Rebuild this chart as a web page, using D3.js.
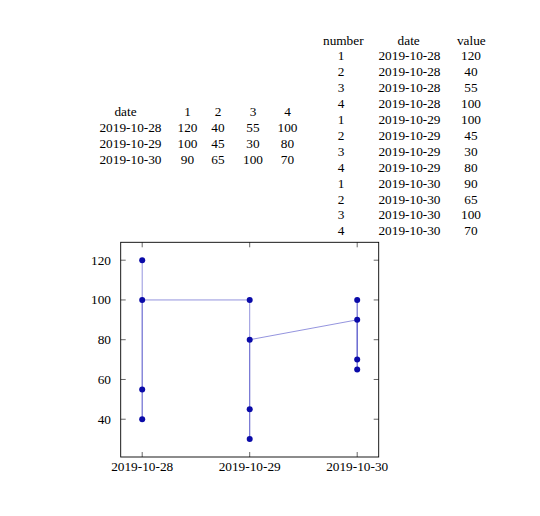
<!DOCTYPE html>
<html>
<head>
<meta charset="utf-8">
<style>
	body { margin: 0; background: #fff; }
	svg text { font-family: "Liberation Serif", "Times New Roman", serif; font-size: 13.3px; fill: #000; }
</style>
</head>
<body>
<div id="chart"></div>
<script src="https://cdn.jsdelivr.net/npm/d3@7"></script>
<script>

	// wide table: one column per number
	var dates = ['2019-10-28', '2019-10-29', '2019-10-30'];
	var numbers = [1, 2, 3, 4];
	var number1 = [120, 100, 90];
	var number2 = [40, 45, 65];
	var number3 = [55, 30, 100];
	var number4 = [100, 80, 70];
	var yTicks = [40, 60, 80, 100, 120];

	var wide = [number1, number2, number3, number4];

	// long table, in the order pgfplots reads it
	var long = [];
	dates.forEach(function(d, i){
		numbers.forEach(function(n, j){
			long.push({ number: n, date: d, value: wide[j][i] });
		});
	});

	var width = 540;
	var height = 516;

	var svg = d3.select('#chart')
		.append('svg')
		.attr('width', width)
		.attr('height', height);

	// ---- left table (wide) ----
	var wideCols = [130.5, 187.5, 218, 253, 287.5];
	var wideHead = svg.append('g');
	wideHead.append('text').attr('x', 125.5).attr('y', 115.5).attr('text-anchor', 'middle').text('date');
	numbers.forEach(function(n, j){
		wideHead.append('text')
			.attr('x', wideCols[j + 1])
			.attr('y', 115.5)
			.attr('text-anchor', 'middle')
			.text(n);
	});
	dates.forEach(function(d, i){
		var y = 131.8 + i * 15.9;
		svg.append('text').attr('x', wideCols[0]).attr('y', y).attr('text-anchor', 'middle').text(d);
		wide.forEach(function(col, j){
			svg.append('text')
				.attr('x', wideCols[j + 1])
				.attr('y', y)
				.attr('text-anchor', 'middle')
				.text(col[i]);
		});
	});

	// ---- right table (long) ----
	var longCols = [341, 409.5, 471];
	svg.append('text').attr('x', 343.3).attr('y', 44.5).attr('text-anchor', 'middle').text('number');
	svg.append('text').attr('x', 408.7).attr('y', 44.5).attr('text-anchor', 'middle').text('date');
	svg.append('text').attr('x', 471.3).attr('y', 44.5).attr('text-anchor', 'middle').text('value');

	svg.selectAll('.longRow')
		.data(long)
		.enter()
		.append('g')
		.attr('class', 'longRow')
		.attr('transform', function(d, i){ return 'translate(0,' + (60.4 + i * 15.9) + ')'; })
		.each(function(d){
			var row = d3.select(this);
			row.append('text').attr('x', longCols[0]).attr('text-anchor', 'middle').text(d.number);
			row.append('text').attr('x', longCols[1]).attr('text-anchor', 'middle').text(d.date);
			row.append('text').attr('x', longCols[2]).attr('text-anchor', 'middle').text(d.value);
		});

	// ---- plot ----
	var plotLeft = 120.7, plotRight = 378.7, plotTop = 242.3, plotBottom = 457;
	var parse = d3.utcParse('%Y-%m-%d');
	var t0 = parse(dates[0]).getTime();
	var t1 = parse(dates[dates.length - 1]).getTime();
	var pad = 0.1 * (t1 - t0);

	var x = d3.scaleUtc()
		.domain([new Date(t0 - pad), new Date(t1 + pad)])
		.range([plotLeft, plotRight]);

	var yMin = d3.min(long, function(d){ return d.value; });
	var yMax = d3.max(long, function(d){ return d.value; });
	var yPad = 0.1 * (yMax - yMin);
	var y = d3.scaleLinear()
		.domain([yMin - yPad, yMax + yPad])
		.range([plotBottom, plotTop]);

	var tickLen = 5;
	var tickG = svg.append('g').attr('stroke', '#000').attr('stroke-width', 0.6);

	dates.forEach(function(d){
		var px = x(parse(d));
		tickG.append('line').attr('x1', px).attr('x2', px).attr('y1', plotBottom).attr('y2', plotBottom - tickLen);
		tickG.append('line').attr('x1', px).attr('x2', px).attr('y1', plotTop).attr('y2', plotTop + tickLen);
		svg.append('text')
			.attr('x', px)
			.attr('y', 471)
			.attr('text-anchor', 'middle')
			.text(d);
	});

	yTicks.forEach(function(v){
		var py = y(v);
		tickG.append('line').attr('x1', plotLeft).attr('x2', plotLeft + tickLen).attr('y1', py).attr('y2', py);
		tickG.append('line').attr('x1', plotRight).attr('x2', plotRight - tickLen).attr('y1', py).attr('y2', py);
		svg.append('text')
			.attr('x', 111)
			.attr('y', py + 4.4)
			.attr('text-anchor', 'end')
			.text(v);
	});

	var line = d3.line()
		.x(function(d){ return x(parse(d.date)); })
		.y(function(d){ return y(d.value); });

	svg.append('path')
		.datum(long)
		.attr('d', line)
		.attr('fill', 'none')
		.attr('stroke', '#4c4cc8')
		.attr('stroke-width', 0.8)
		.attr('stroke-opacity', 0.75);

	svg.selectAll('.dots')
		.data(long)
		.enter()
		.append('circle')
		.attr('class', 'dots')
		.attr('cx', function(d){ return x(parse(d.date)); })
		.attr('cy', function(d){ return y(d.value); })
		.attr('r', 3)
		.attr('fill', '#0a0aa8');

	svg.append('rect')
		.attr('x', plotLeft)
		.attr('y', plotTop)
		.attr('width', plotRight - plotLeft)
		.attr('height', plotBottom - plotTop)
		.attr('fill', 'none')
		.attr('stroke', '#000')
		.attr('stroke-width', 0.9);

</script>
</body>
</html>
